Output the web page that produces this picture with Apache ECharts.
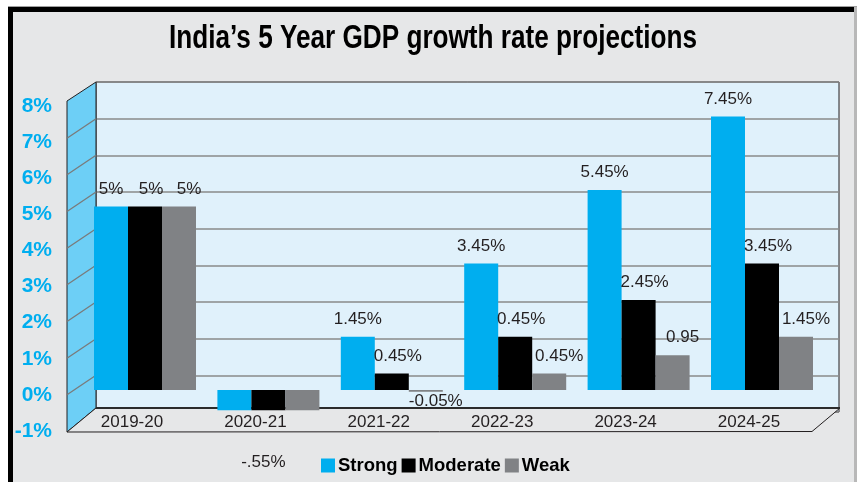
<!DOCTYPE html>
<html><head><meta charset="utf-8">
<script src="https://cdn.jsdelivr.net/npm/echarts@6/dist/echarts.min.js"></script>
<style>html,body{margin:0;padding:0;background:#fff}#c{width:861px;height:482px}</style>
</head><body><div id="c"></div>
<script>
// ---- data ----
const titleText = 'India\u2019s 5 Year GDP growth rate projections';
const categories = ['2019-20', '2020-21', '2021-22', '2022-23', '2023-24', '2024-25'];
const seriesNames = ['Strong', 'Moderate', 'Weak'];
const strong = [5, -0.55, 1.45, 3.45, 5.45, 7.45];
const moderate = [5, -0.55, 0.45, 1.45, 2.45, 3.45];
const weak = [5, -0.55, -0.05, 0.45, 0.95, 1.45];
const strongLabels = ['5%', '', '1.45%', '3.45%', '5.45%', '7.45%'];
const moderateLabels = ['5%', '-.55%', '0.45%', '0.45%', '2.45%', '3.45%'];
const weakLabels = ['5%', '', '-0.05%', '0.45%', '0.95', '1.45%'];
const yTicks = [-1, 0, 1, 2, 3, 4, 5, 6, 7, 8];

// ---- styling ----
const FONT = '"Liberation Sans",Arial,sans-serif';
const colors = ['#00AEEF', '#000000', '#808285'];
const TXT = '#231F20';

function makeData(values, labels, dx) {
  return values.map((v, i) => {
    const neg = v < 0;
    const big = v < -0.3;
    return {
      value: v,
      label: {
        show: labels[i] !== '',
        formatter: labels[i],
        position: neg ? 'bottom' : 'top',
        distance: big ? 44 : (neg ? 1 : 9),
        offset: [big ? -5 : dx, 0]
      }
    };
  });
}

// condensed title: measure and squeeze to the reference width
const TITLE_SIZE = 32.6;
const mctx = document.createElement('canvas').getContext('2d');
mctx.font = 'bold ' + TITLE_SIZE + 'px "Liberation Sans"';
const titleScale = 528 / mctx.measureText(titleText).width;

const chart = echarts.init(document.getElementById('c'), null, { renderer: 'canvas' });

const sideTicks = yTicks.filter(v => v > yTicks[0] && v < yTicks[yTicks.length - 1]);

const option = {
  backgroundColor: '#ffffff',
  animation: false,
  legend: {
    data: seriesNames,
    left: 316, top: 451,
    icon: 'rect', itemWidth: 14, itemHeight: 14, itemGap: 4,
    textStyle: { fontFamily: FONT, fontSize: 18.5, fontWeight: 'bold', color: '#000', padding: [0, 0, 0, -2] }
  },
  grid: [
    { left: 83.3, right: 37.3, top: 96.4, bottom: 55.3 },
    { left: 96, right: 22, top: 82, bottom: 70, show: true, backgroundColor: '#E0F1FB', borderColor: '#231F20', borderWidth: 1, z: -1 },
    { left: 57, width: 1, top: 106, bottom: 51 }
  ],
  xAxis: [
    { gridIndex: 0, type: 'category', data: categories, z: 6,
      axisLine: { show: false }, axisTick: { show: false }, splitLine: { show: false },
      axisLabel: { margin: -13, padding: [0, 26, 0, 0], fontFamily: FONT, fontSize: 17, color: TXT } },
    { gridIndex: 1, type: 'value', min: 0, max: 1, show: false },
    { gridIndex: 2, type: 'value', min: 0, max: 1, show: false }
  ],
  yAxis: [
    { gridIndex: 0, type: 'value', min: -1, max: 8, interval: 1, show: false },
    { gridIndex: 1, type: 'value', min: -1, max: 8, interval: 1,
      axisLine: { show: false }, axisTick: { show: false }, axisLabel: { show: false },
      splitLine: { show: true, lineStyle: { color: '#8A8A8A', width: 1.5 } } },
    { gridIndex: 2, type: 'value', min: -1, max: 8, interval: 1,
      axisLine: { show: false }, axisTick: { show: false }, splitLine: { show: false },
      axisLabel: { margin: 5, formatter: '{value}%', fontFamily: FONT, fontSize: 21, fontWeight: 'bold', color: '#00AEEF' } }
  ],
  series: [
    {
      type: 'custom', xAxisIndex: 1, yAxisIndex: 1, z: 3, silent: true,
      data: sideTicks,
      renderItem: function (params, api) {
        const p = api.coord([0, api.value(0)]);
        return { type: 'line', shape: { x1: p[0], y1: p[1], x2: p[0] - 29, y2: p[1] + 19.5 },
                 style: { stroke: '#7A7A7A', lineWidth: 1.3 } };
      }
    },
    ...[strong, moderate, weak].map((vals, k) => ({
      name: seriesNames[k], type: 'bar', xAxisIndex: 0, yAxisIndex: 0, z: 5,
      barWidth: 34, barGap: '0%',
      itemStyle: { color: colors[k] },
      label: { show: true, fontFamily: FONT, fontSize: 17, color: TXT },
      data: makeData(vals, [strongLabels, moderateLabels, weakLabels][k], [0, 6, 10][k])
    }))
  ],
  graphic: [
    { type: 'rect', z: -10, shape: { x: 8, y: 7, width: 849, height: 480 }, style: { fill: '#E6E7E8' } },
    { type: 'rect', z: -9, shape: { x: 8, y: 6, width: 849, height: 1 }, style: { fill: '#A0A0A0' } },
    { type: 'rect', z: -9, shape: { x: 8, y: 7, width: 849, height: 5 }, style: { fill: '#000' } },
    { type: 'rect', z: -9, shape: { x: 8, y: 7, width: 5, height: 480 }, style: { fill: '#000' } },
    { type: 'rect', z: -9, shape: { x: 854, y: 7, width: 3, height: 480 }, style: { fill: '#B8B8B8' } },
    { type: 'text', z: 10, x: 433, y: 39, scaleX: titleScale,
      style: { text: titleText, font: 'bold ' + TITLE_SIZE + 'px "Liberation Sans"', fill: '#000', align: 'center', verticalAlign: 'middle' } },
    { type: 'polygon', z: 1, shape: { points: [[67, 101], [96, 82], [96, 408], [67, 432]] },
      style: { fill: '#6DCFF6', stroke: '#231F20', lineWidth: 1 } },
    { type: 'polygon', z: 1, shape: { points: [[96, 408], [840, 408], [812, 431.5], [67, 432]] },
      style: { fill: '#E6E7E8', stroke: '#231F20', lineWidth: 1 } },
    { type: 'line', z: 1, shape: { x1: 96, y1: 408, x2: 840, y2: 408 }, style: { stroke: '#2B2B2B', lineWidth: 2 } }
  ]
};
chart.setOption(option);
</script>
</body></html>
